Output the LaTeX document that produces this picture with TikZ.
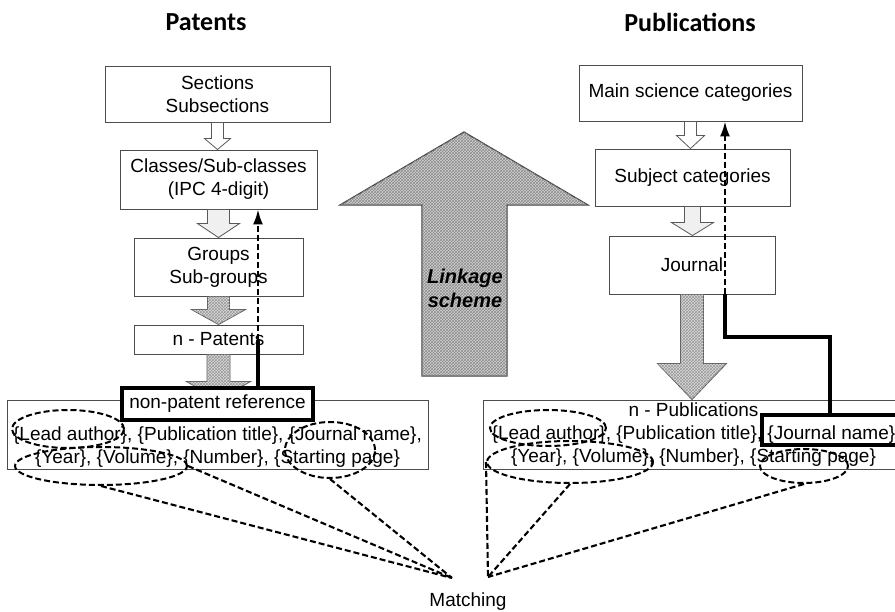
\documentclass[tikz,border=0pt]{standalone}
\usepackage{fontspec}
\setmainfont{Liberation Sans}
\newfontfamily\headfont{Carlito}
\usetikzlibrary{calc,shapes.geometric,arrows.meta,patterns}

\newcommand\boxfont{\fontsize{19}{23}\selectfont}
\newcommand\fld[1]{\{#1\}}

% hollow block arrow pointing down from one node to the next
% #1 style, #2 source node, #3 target node, #4 half shaft, #5 half head, #6 head length
\newcommand\blockdown[6]{%
  \draw[#1] let \p1=(#2.south), \p2=(#3.north) in
    (\x1-#4,\y1) -- (\x1+#4,\y1) -- (\x1+#4,\y2+#6) -- (\x1+#5,\y2+#6)
    -- (\x1,\y2) -- (\x1-#5,\y2+#6) -- (\x1-#4,\y2+#6) -- cycle;}

\tikzset{
  box/.style={draw=black!70, line width=0.9pt, fill=white, inner sep=0pt,
    align=center, font=\boxfont},
  thickbox/.style={draw=black, line width=4pt, inner sep=0pt, font=\boxfont},
  thickline/.style={draw=black, line width=4pt},
  blk/.style={draw=black!65, line width=0.8pt, fill=#1},
  blk/.default=white,
  textured/.style={draw=black!65, line width=0.8pt, fill=black!14,
    postaction={pattern=crosshatch, pattern color=black!40}},
  dashline/.style={draw=black, line width=2.1pt, dash pattern=on 6pt off 3pt},
  ell/.style={ellipse, draw=black, line width=2pt, dash pattern=on 6pt off 3pt,
    inner sep=0pt},
  linkarrow/.style={draw=black!75, line width=1.2pt, fill=black!18,
    postaction={pattern=crosshatch, pattern color=black!45}},
  title/.style={font=\headfont\bfseries\fontsize{26}{30}\selectfont},
}

\begin{document}
\begin{tikzpicture}[x=1pt,y=-1pt]
\useasboundingbox (0,0) rectangle (895,612);
\clip (0,0) rectangle (895,612);

% column titles
\node[title] (tpat) at (206,22) {Patents};
\node[title] (tpub) at (690,22) {Publications};

% central linkage arrow
\draw[linkarrow] (422,376) -- (422,205) -- (340,205) -- (464,132) -- (588,205)
  -- (507,205) -- (507,376) -- cycle;
\node[font=\bfseries\itshape\fontsize{20}{24}\selectfont, align=center]
  (link) at (465,288) {Linkage\\scheme};

% patent hierarchy
\node[box, minimum width=225pt, minimum height=56pt] (sec) at (217.5,94) {Sections\\Subsections};
\node[box, minimum width=197pt, minimum height=59pt] (cls) at (218.5,179.5) {Classes/Sub-classes\\(IPC 4-digit)};
\node[box, minimum width=169pt, minimum height=58pt] (grp) at (218.5,267) {Groups\\Sub-groups};
\node[box, minimum width=169pt, minimum height=29pt] (npat) at (218.5,339.5) {n - Patents};
\node[box, minimum width=421pt, minimum height=69pt] (pref) at (217.5,434.5)
  {\strut\\\fld{Lead author}, \fld{Publication title}, \fld{Journal name},\\
   \fld{Year}, \fld{Volume}, \fld{Number}, \fld{Starting page}};

% publication hierarchy
\node[box, minimum width=223pt, minimum height=56pt] (msc) at (690.5,93) {Main science categories};
\node[box, minimum width=195pt, minimum height=57pt] (subj) at (692.5,177.5) {Subject categories};
\node[box, minimum width=166pt, minimum height=58pt] (jour) at (692,265) {Journal};
\node[box, minimum width=421pt, minimum height=69pt] (pubs) at (693.5,434.5)
  {n - Publications\\\fld{Lead author}, \fld{Publication title}, \fld{Journal name}\\
   \fld{Year}, \fld{Volume}, \fld{Number}, \fld{Starting page}};

% block arrows between levels
\blockdown{blk}{sec}{cls}{6pt}{13pt}{11pt}
\blockdown{blk=black!6}{cls}{grp}{11pt}{21pt}{14pt}
\blockdown{textured}{grp}{npat}{11pt}{27pt}{15pt}
\blockdown{textured}{npat}{pref}{11.5pt}{32pt}{18pt}
\blockdown{blk}{msc}{subj}{6pt}{14pt}{13pt}
\blockdown{blk=black!6}{subj}{jour}{8pt}{21pt}{13pt}
\blockdown{textured}{jour}{pubs}{11.5pt}{34.5pt}{36pt}

% linking paths
\coordinate (j1) at (258,340);
\coordinate (j2) at (725,294);
\coordinate (k1) at (725,337);
\coordinate (k2) at (830,337);
\draw[dashline, -{Latex[length=15pt,width=10pt]}] (j1) -- (j1 |- cls.south);
\draw[dashline, -{Latex[length=15pt,width=10pt]}] (j2) -- (j2 |- msc.south);
\draw[thickline] (j1) -- (j1 |- pref.north);
\node[thickbox, fill=white, minimum width=191pt, minimum height=32pt] (npr) at (217.5,404) {non-patent reference};
\node[thickbox, minimum width=150pt, minimum height=30pt] (jn) at (837,430) {};
\draw[thickline] (j2) -- (k1) -- (k2) -- (k2 |- jn.north);

% matched fields
\node[ell, minimum width=112pt, minimum height=38pt] (e1) at (68,429) {};
\node[ell, minimum width=172pt, minimum height=38pt] (e2) at (101,466) {};
\node[ell, minimum width=90pt, minimum height=56pt] (e3) at (330,450) {};
\node[ell, minimum width=116pt, minimum height=36pt] (f1) at (548,428) {};
\node[ell, minimum width=166pt, minimum height=42pt] (f2) at (570,462) {};
\node[ell, minimum width=88pt, minimum height=34pt] (f3) at (804,466) {};

\node[font=\boxfont] (match) at (468,602) {Matching};
\coordinate (mL) at (452,578);
\coordinate (mR) at (488,577);
\draw[dashline] (e2.south) -- (mL);
\draw[dashline] (e2.east) -- (mL);
\draw[dashline] (e3.south) -- (mL);
\draw[dashline] (f2.west) -- (mR);
\draw[dashline] (f2.south) -- (mR);
\draw[dashline] (f3.south) -- (mR);
\end{tikzpicture}
\end{document}
